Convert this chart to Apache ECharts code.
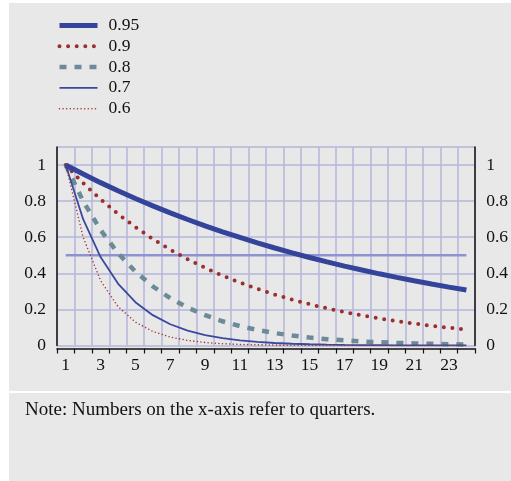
<!DOCTYPE html>
<html>
<head>
<meta charset="utf-8">
<script src="https://cdn.jsdelivr.net/npm/echarts@6/dist/echarts.min.js"></script>
<style>
html,body{margin:0;padding:0;background:#ffffff;}
#c{width:511px;height:481px;}
</style>
</head>
<body>
<div id="c"></div>
<script>
var categories = ['1','2','3','4','5','6','7','8','9','10','11','12','13','14','15','16','17','18','19','20','21','22','23','24'];
var s095 = [1, 0.95, 0.9025, 0.8574, 0.8145, 0.7738, 0.7351, 0.6983, 0.6634, 0.6302, 0.5987, 0.5688, 0.5404, 0.5133, 0.4877, 0.4633, 0.4401, 0.4181, 0.3972, 0.3774, 0.3585, 0.3406, 0.3235, 0.3074];
var s09 = [1, 0.9, 0.81, 0.729, 0.6561, 0.5905, 0.5314, 0.4783, 0.4305, 0.3874, 0.3487, 0.3138, 0.2824, 0.2542, 0.2288, 0.2059, 0.1853, 0.1668, 0.1501, 0.1351, 0.1216, 0.1094, 0.0985, 0.0886];
var s08 = [1, 0.8, 0.64, 0.512, 0.4096, 0.3277, 0.2621, 0.2097, 0.1678, 0.1342, 0.1074, 0.0859, 0.0687, 0.055, 0.044, 0.0352, 0.0281, 0.0225, 0.018, 0.0144, 0.0115, 0.0092, 0.0074, 0.0059];
var s07 = [1, 0.7, 0.49, 0.343, 0.2401, 0.1681, 0.1176, 0.0824, 0.0576, 0.0404, 0.0282, 0.0198, 0.0138, 0.0097, 0.0068, 0.0047, 0.0033, 0.0023, 0.0016, 0.0011, 0.0008, 0.0006, 0.0004, 0.0003];
var s06 = [1, 0.6, 0.36, 0.216, 0.1296, 0.0778, 0.0467, 0.028, 0.0168, 0.0101, 0.006, 0.0036, 0.0022, 0.0013, 0.0008, 0.0005, 0.0003, 0.0002, 0.0001, 0.0001, 0, 0, 0, 0];
var half = [0.5, 0.5, 0.5, 0.5, 0.5, 0.5, 0.5, 0.5, 0.5, 0.5, 0.5, 0.5, 0.5, 0.5, 0.5, 0.5, 0.5, 0.5, 0.5, 0.5, 0.5, 0.5, 0.5, 0.5];
var seriesNames = ['0.95', '0.9', '0.8', '0.7', '0.6'];
var noteText = 'Note: Numbers on the x-axis refer to quarters.';

var FONT = 'Liberation Serif';
var FS = 17.5;
var chart = echarts.init(document.getElementById('c'), null, {renderer: 'canvas'});

function yFmt(v) { return v > 1.05 ? '' : String(Math.round(v * 10) / 10); }

var styles = {
  '0.95': {color: '#34449a', width: 5, type: 'solid', cap: 'butt'},
  '0.9':  {color: '#9b2f2f', width: 4, type: [0, 8.6], cap: 'round'},
  '0.8':  {color: '#6b8b99', width: 4.5, type: [7, 8], cap: 'butt'},
  '0.7':  {color: '#3a48a0', width: 1.8, type: 'solid', cap: 'butt'},
  '0.6':  {color: '#a03838', width: 1.6, type: [0, 3.6], cap: 'round'}
};
var legendData = seriesNames.map(function (n) {
  var s = styles[n];
  return {name: n, itemStyle: {opacity: 0}, lineStyle: {color: s.color, width: s.width, type: s.type, cap: s.cap}};
});
var dataMap = {'0.95': s095, '0.9': s09, '0.8': s08, '0.7': s07, '0.6': s06};

var series = [
  {name: 'half', type: 'line', data: half, symbol: 'none', z: 2,
   lineStyle: {color: '#8e93cf', width: 2.5}, itemStyle: {color: '#8e93cf'}}
];
seriesNames.forEach(function (n) {
  var s = styles[n];
  series.push({name: n, type: 'line', data: dataMap[n], symbol: 'none', z: n === '0.95' ? 5 : 4,
    lineStyle: {color: s.color, width: s.width, type: s.type, cap: s.cap}, itemStyle: {color: s.color}});
});

var option = {
  animation: false,
  backgroundColor: '#ffffff',
  graphic: [
    {type: 'rect', z: -10, shape: {x: 9, y: 3, width: 502, height: 388}, style: {fill: '#e8e8e8'}, silent: true},
    {type: 'rect', z: -10, shape: {x: 9, y: 393, width: 502, height: 88}, style: {fill: '#e8e8e8'}, silent: true},
    {type: 'text', left: 25, top: 401, style: {text: noteText, fontFamily: FONT, fontSize: 19, fill: '#111111'}}
  ],
  legend: {
    data: legendData,
    orient: 'vertical',
    left: 57,
    top: 16.5,
    itemWidth: 38,
    itemHeight: 16,
    itemGap: 2.8,
    padding: 0,
    itemStyle: {opacity: 0},
    textStyle: {fontFamily: FONT, fontSize: FS, color: '#111111', lineHeight: 16, padding: [0, 0, 0, 6]},
    selectedMode: false
  },
  grid: {left: 57, right: 34, top: 147, bottom: 135.5, containLabel: false},
  xAxis: {
    type: 'category',
    data: categories,
    boundaryGap: true,
    position: 'bottom',
    offset: 3,
    axisLine: {show: true, onZero: false, lineStyle: {color: '#111111', width: 1.5}},
    axisTick: {show: true, interval: 0, length: 5, lineStyle: {color: '#111111', width: 1.2}},
    axisLabel: {interval: 1, margin: 8, fontFamily: FONT, fontSize: FS, color: '#111111'},
    splitLine: {show: true, interval: 0, lineStyle: {color: '#b4b6da', width: 1.5}}
  },
  yAxis: [
    {
      type: 'value', min: 0, max: 1.1, interval: 0.2, position: 'left',
      axisLine: {show: true, lineStyle: {color: '#111111', width: 1.5}},
      axisTick: {show: false},
      axisLabel: {margin: 11, fontFamily: FONT, fontSize: FS, color: '#111111', formatter: yFmt},
      splitLine: {show: true, lineStyle: {color: '#b4b6da', width: 1.5}}
    },
    {
      type: 'value', min: 0, max: 1.1, interval: 0.2, position: 'right',
      axisLine: {show: true, lineStyle: {color: '#111111', width: 1.5}},
      axisTick: {show: false},
      axisLabel: {margin: 11, fontFamily: FONT, fontSize: FS, color: '#111111', formatter: yFmt},
      splitLine: {show: false}
    }
  ],
  series: series
};
chart.setOption(option);
</script>
</body>
</html>
